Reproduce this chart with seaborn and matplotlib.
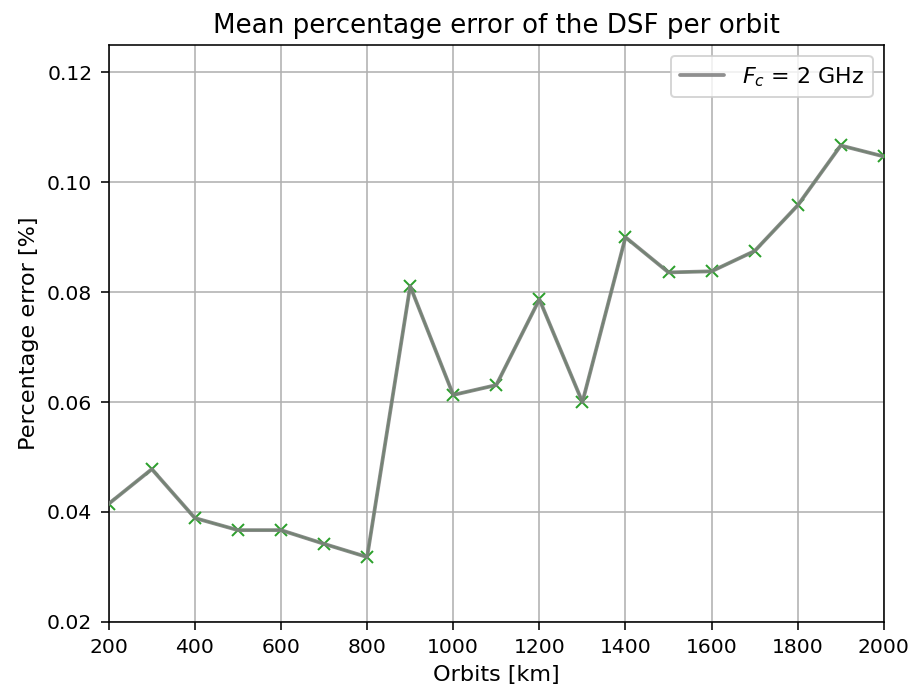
import matplotlib
matplotlib.use("Agg")
import matplotlib.pyplot as plt
import seaborn as sns
import pandas as pd

orbits = [200, 300, 400, 500, 600, 700, 800, 900, 1000, 1100, 1200, 1300,
          1400, 1500, 1600, 1700, 1800, 1900, 2000]
errors = [0.0415, 0.0478, 0.0389, 0.0367, 0.0367, 0.0342, 0.0318, 0.0811,
          0.0613, 0.0631, 0.0787, 0.0600, 0.0900, 0.0836, 0.0838, 0.0875,
          0.0958, 0.1067, 0.1047]
series_label = r"$F_c$ = 2 GHz"

df = pd.DataFrame({"orbit": orbits, "err": errors})

sns.set_style("ticks")
plt.rcParams['font.family'] = ['DejaVu Sans']
for k in ["text.color", "axes.labelcolor", "xtick.color", "ytick.color"]:
    plt.rcParams[k] = "black"

DPI = 142.8
fig = plt.figure(figsize=(914 / DPI, 691 / DPI), dpi=DPI)
ax = fig.add_axes([0.119, 0.1, 0.848, 0.835])

sns.lineplot(data=df, x="orbit", y="err", ax=ax, color="tab:green",
             marker="x", markersize=6, markeredgewidth=1.0, linewidth=1.2,
             markeredgecolor="tab:green", zorder=3)
sns.lineplot(data=df, x="orbit", y="err", ax=ax, color="gray",
             linewidth=1.9, alpha=0.88, label=series_label, zorder=4)

ax.set_xlim(200, 2000)
ax.set_ylim(0.02, 0.125)
ax.set_xticks(range(200, 2001, 200))
ax.set_yticks([0.02, 0.04, 0.06, 0.08, 0.10, 0.12])
ax.grid(True, color="#b0b0b0", linewidth=0.8)
for s in ax.spines.values():
    s.set_visible(True)
    s.set_color("black")
    s.set_linewidth(0.8)
ax.tick_params(labelsize=10.2, direction="out", length=3.8, width=0.8,
               color="black", pad=4.5)
ax.set_xlabel("Orbits [km]", fontsize=11.3)
ax.set_ylabel("Percentage error [%]", fontsize=11.3)
ax.set_title("Mean percentage error of the DSF per orbit", fontsize=13.2)
ax.legend(loc="upper right", fontsize=11.2, frameon=True)

fig.savefig("out.png", dpi=DPI)
